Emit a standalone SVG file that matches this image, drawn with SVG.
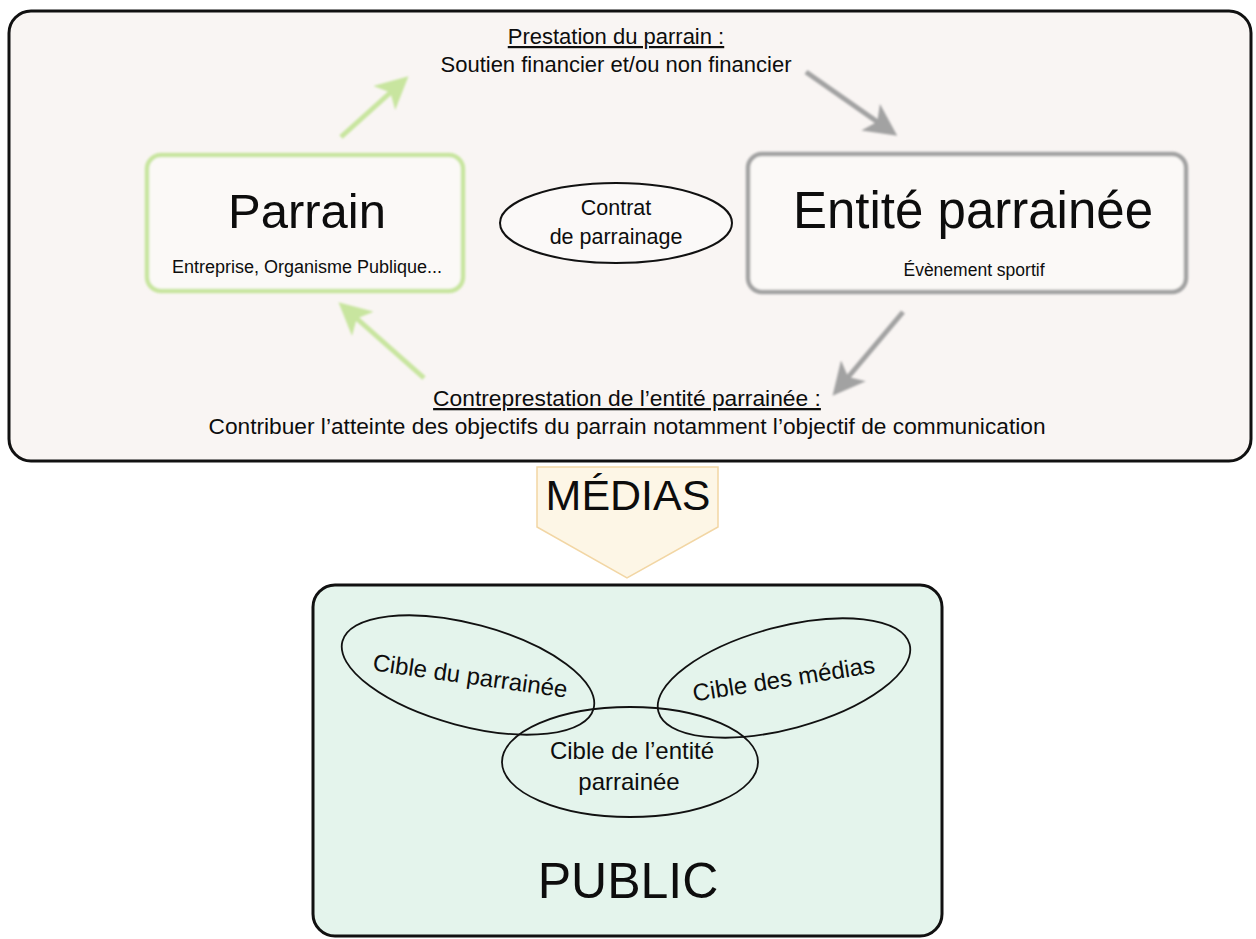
<svg xmlns="http://www.w3.org/2000/svg" width="1256" height="939" viewBox="0 0 1256 939">
  <style>
    text { font-family: "Liberation Sans", Arial, sans-serif; fill: #0d0d0d; }
    .mid { text-anchor: middle; }
    .ul { text-decoration: underline; }
    .panel { stroke: #111; stroke-width: 3; }
    .oval { fill: none; stroke: #111; stroke-width: 1.8; }
    .green { stroke: #c8e59f; }
    .grey { stroke: #a2a2a2; }
    .arrow { fill: none; stroke-width: 5; stroke-linecap: butt; }
  </style>
  <defs>
    <filter id="soft" x="-10%" y="-10%" width="120%" height="120%">
      <feGaussianBlur stdDeviation="0.8"/>
    </filter>
    <marker id="headGreen" viewBox="0 0 10 10" refX="6.9" refY="5" markerWidth="6.5" markerHeight="6.5" orient="auto">
      <path d="M0,0 L10,5 L0,10 L2.5,5 z" fill="#c8e59f"/>
    </marker>
    <marker id="headGrey" viewBox="0 0 10 10" refX="6.9" refY="5" markerWidth="6.5" markerHeight="6.5" orient="auto">
      <path d="M0,0 L10,5 L0,10 L2.5,5 z" fill="#a2a2a2"/>
    </marker>
  </defs>

  <rect width="1256" height="939" fill="#ffffff"/>

  <!-- top panel -->
  <g id="panel-relation">
    <rect class="panel" x="9" y="11" width="1242" height="450" rx="22" fill="#f9f5f3"/>
  </g>

  <g id="label-prestation">
    <text class="mid ul" x="616" y="44" font-size="22">Prestation du parrain :</text>
    <text class="mid" x="616" y="72" font-size="22">Soutien financier et/ou non financier</text>
  </g>

  <g id="node-parrain">
    <rect x="147" y="155" width="316" height="136" rx="14" fill="#fbf9f7" stroke="#c8e59f" stroke-width="4.5" filter="url(#soft)"/>
    <text class="mid" x="307" y="228" font-size="49">Parrain</text>
    <text class="mid" x="307" y="273" font-size="18">Entreprise, Organisme Publique...</text>
  </g>

  <g id="node-contrat">
    <ellipse cx="616" cy="223" rx="116" ry="40" fill="#fbf9f8" stroke="#111" stroke-width="2"/>
    <text class="mid" x="616" y="215" font-size="21.5">Contrat</text>
    <text class="mid" x="616" y="244" font-size="21.5">de parrainage</text>
  </g>

  <g id="node-entite">
    <rect x="748" y="154" width="438" height="138" rx="14" fill="#fbf9f7" stroke="#a2a2a2" stroke-width="4.5" filter="url(#soft)"/>
    <text class="mid" x="973" y="228" font-size="51">Entité parrainée</text>
    <text class="mid" x="974" y="276" font-size="17.5">Évènement sportif</text>
  </g>

  <g id="label-contreprestation">
    <text class="mid ul" x="627" y="406" font-size="22.8">Contreprestation de l’entité parrainée :</text>
    <text class="mid" x="627" y="434" font-size="22.7" textLength="837">Contribuer l’atteinte des objectifs du parrain notamment l’objectif de communication</text>
  </g>

  <!-- connectors -->
  <g id="connectors" filter="url(#soft)">
    <path class="arrow green" d="M341,137 L401,83" marker-end="url(#headGreen)"/>
    <path class="arrow grey" d="M806,72 L889,130" marker-end="url(#headGrey)"/>
    <path class="arrow grey" d="M903,312 L839,388" marker-end="url(#headGrey)"/>
    <path class="arrow green" d="M424,378 L346,309" marker-end="url(#headGreen)"/>
  </g>

  <!-- médias -->
  <g id="node-medias">
    <polygon points="537,467 718,467 718,527 627,578 537,527" fill="#fdf6e6" stroke="#f2d6a4" stroke-width="1.5"/>
    <text class="mid" x="628" y="510" font-size="43">MÉDIAS</text>
  </g>

  <!-- public panel -->
  <g id="node-public">
    <rect class="panel" x="313" y="585" width="629" height="351" rx="22" fill="#e4f4ec"/>
    <text class="mid" x="628" y="898" font-size="50">PUBLIC</text>
  </g>

  <g id="node-cible-parrainee">
    <ellipse class="oval" cx="468" cy="675" rx="130" ry="51" transform="rotate(15 468 675)"/>
    <text class="mid" x="469" y="684" font-size="24" transform="rotate(8 469 684)">Cible du parrainée</text>
  </g>

  <g id="node-cible-medias">
    <ellipse class="oval" cx="784" cy="678" rx="130" ry="51" transform="rotate(-15 784 678)"/>
    <text class="mid" x="785" y="687" font-size="24" transform="rotate(-9 785 687)">Cible des médias</text>
  </g>

  <g id="node-cible-entite">
    <ellipse class="oval" cx="630" cy="762" rx="128" ry="55"/>
    <text class="mid" x="632" y="759" font-size="24">Cible de l’entité</text>
    <text class="mid" x="629" y="790" font-size="24">parrainée</text>
  </g>
</svg>
